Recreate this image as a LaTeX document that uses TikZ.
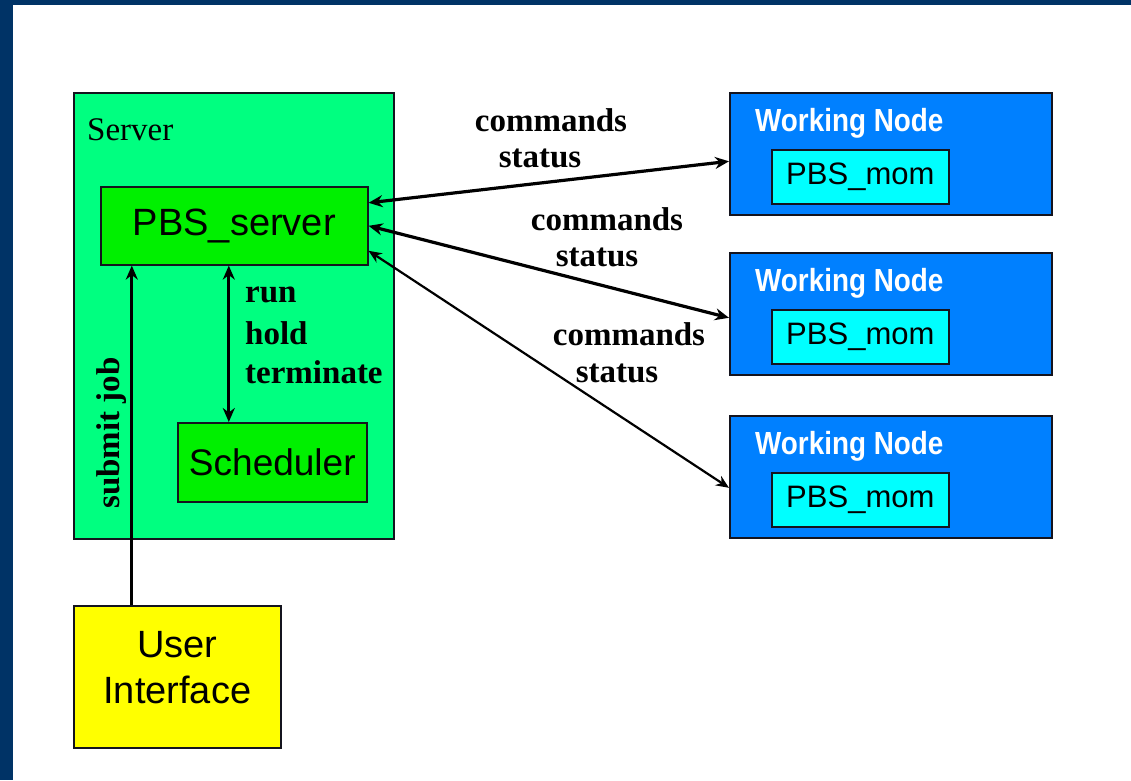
\documentclass[tikz,border=0pt]{standalone}
\usepackage{fontspec}
\setmainfont{Liberation Serif}
\newfontfamily\arialf{Liberation Sans}
\usetikzlibrary{arrows.meta}
\definecolor{navy}{RGB}{0,51,102}
\definecolor{srvgreen}{RGB}{0,255,128}
\definecolor{pbsgreen}{RGB}{0,240,0}
\definecolor{wnblue}{RGB}{0,128,255}
\definecolor{momcyan}{RGB}{0,255,255}
\definecolor{uiyellow}{RGB}{255,255,0}
\definecolor{edge}{RGB}{20,20,30}
\tikzset{
  boxst/.style={draw=edge, line width=1.6pt, inner sep=0pt, anchor=north west},
  sanslbl/.style={font=\arialf\fontsize{38}{44}\selectfont, inner sep=0pt},
  lbl/.style={font=\bfseries\fontsize{33}{38}\selectfont, inner sep=0pt},
  wntext/.style={font=\arialf\bfseries\fontsize{32}{36}\selectfont, text=white, inner sep=0pt, xscale=0.87, anchor=base west},
  momtext/.style={font=\arialf\fontsize{31}{36}\selectfont, inner sep=0pt},
  conn/.style={line width=3.2pt, {Stealth[length=14pt,width=12pt]}-{Stealth[length=14pt,width=12pt]}},
  connthin/.style={line width=2.2pt, {Stealth[length=13pt,width=11pt]}-{Stealth[length=13pt,width=11pt]}}
}
\begin{document}
\begin{tikzpicture}[x=1pt,y=-1pt]
\useasboundingbox (0,0) rectangle (1131,780);
\fill[white] (0,0) rectangle (1131,780);
\fill[navy] (0,0) rectangle (13,780);
\fill[navy] (0,0) rectangle (1131,5);

% server
\node[boxst, fill=srvgreen, minimum width=320pt, minimum height=446pt] (srv) at (73,92) {};
\node[font=\fontsize{33}{36}\selectfont, inner sep=0pt, anchor=base west] (srvlbl) at ([xshift=14pt,yshift=-48pt]srv.north west) {Server};
\node[boxst, fill=pbsgreen, minimum width=267pt, minimum height=78pt] (psrv) at (100,186) {};
\node[sanslbl] (psrvt) at (psrv.center) {PBS\_server};
\node[boxst, fill=pbsgreen, minimum width=189pt, minimum height=79pt] (sched) at (177,422) {};
\node[sanslbl, font=\arialf\fontsize{37}{42}\selectfont] (schedt) at (sched.center) {Scheduler};

% user interface
\node[boxst, fill=uiyellow, minimum width=207pt, minimum height=142pt] (ui) at (73,605) {};
\node[sanslbl, align=center, font=\arialf\fontsize{38}{46}\selectfont] (uit) at ([yshift=9pt]ui.center) {User\\Interface};

% working nodes
\foreach \i/\y in {1/92,2/252,3/415}{
  \node[boxst, fill=wnblue, minimum width=322pt, minimum height=122pt] (wn\i) at (729,\y) {};
  \node[wntext] (wnt\i) at ([xshift=26pt,yshift=-39pt]wn\i.north west) {Working Node};
  \node[boxst, fill=momcyan, minimum width=177pt, minimum height=54pt] (mom\i) at ([xshift=42pt,yshift=-57pt]wn\i.north west) {};
  \node[momtext] (momt\i) at (mom\i.center) {PBS\_mom};
}

% connectors
\draw[line width=3.2pt, -{Stealth[length=14pt,width=12pt]}] ([xshift=-45.5pt]ui.north) -- ([xshift=-45.5pt]ui.north |- psrv.south);
\draw[conn] ([xshift=-43.5pt]sched.north) -- ([xshift=-43.5pt]sched.north |- psrv.south);
\draw[conn] ([yshift=23pt]psrv.east) -- ([yshift=-7.5pt]wn1.west);
\draw[conn] (psrv.east) -- ([yshift=-4pt]wn2.west);
\draw[connthin] ([yshift=-25pt]psrv.east) -- ([yshift=-11pt]wn3.west);

% labels
\node[lbl, rotate=90] (sj) at (112,433) {submit job};
\node[lbl, anchor=west] (run) at (245,295) {run};
\node[lbl, anchor=west] (hold) at (245,333) {hold};
\node[lbl, anchor=west] (term) at (245,372) {terminate};
\node[lbl] (c1) at (551,120) {commands};
\node[lbl] (s1) at (540,158) {status};
\node[lbl] (c2) at (607,219) {commands};
\node[lbl] (s2) at (597,257) {status};
\node[lbl] (c3) at (629,334) {commands};
\node[lbl] (s3) at (617,373) {status};
\end{tikzpicture}
\end{document}
